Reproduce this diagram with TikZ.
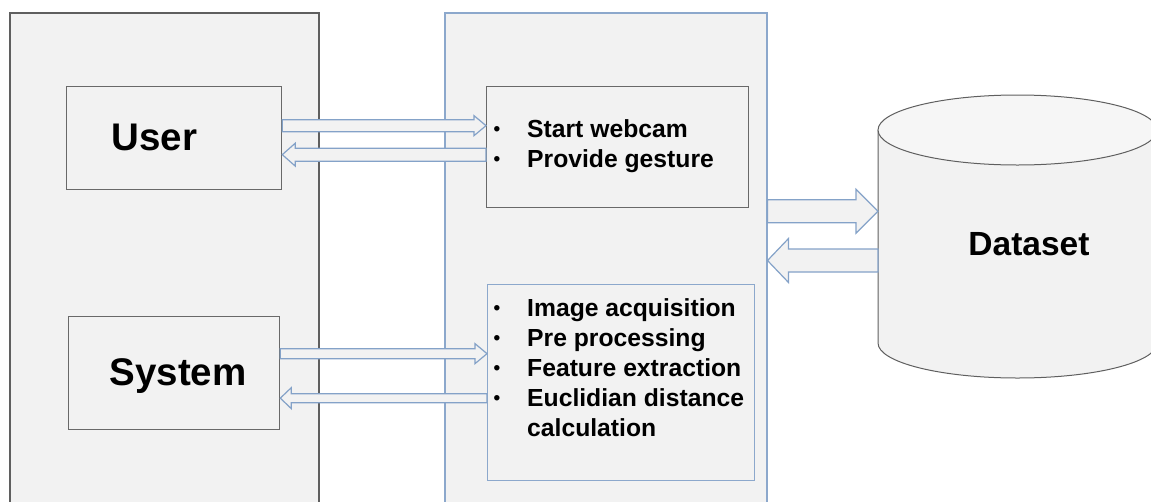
\documentclass[tikz,border=0pt]{standalone}
\usepackage{fontspec}
\setmainfont{Liberation Sans}
\usetikzlibrary{calc}

\tikzset{
  panel/.style={draw={rgb, 255:red, 95; green, 95; blue, 95}, line width=1.5pt, fill={rgb, 255:red, 242; green, 242; blue, 242}, inner sep=0pt, anchor=north west},
  bluepanel/.style={panel, draw={rgb, 255:red, 140; green, 168; blue, 204}},
  actorbox/.style={draw={rgb, 255:red, 105; green, 105; blue, 105}, line width=1.3pt, fill={rgb, 255:red, 242; green, 242; blue, 242}, inner sep=0pt, anchor=north west},
  fatarr/.style={draw={rgb, 255:red, 132; green, 162; blue, 200}, line width=1.2pt, fill={rgb, 255:red, 242; green, 242; blue, 242}, line join=miter},
  bigtext/.style={font=\fontsize{38.5}{40}\selectfont\bfseries, inner sep=0pt, anchor=base},
  listtext/.style={font=\fontsize{24.7}{30}\selectfont\bfseries, inner sep=0pt, anchor=base west}
}

% block arrow: start, tip, half shaft, half head, head length (signed)
\newcommand{\fatarrow}[5]{%
  \draw[fatarr] let \p1=#1, \p2=#2 in
    (\x1,{\y1+#3}) -- ({\x2-(#5)},{\y1+#3}) -- ({\x2-(#5)},{\y1+#4}) -- (\x2,\y1)
    -- ({\x2-(#5)},{\y1-#4}) -- ({\x2-(#5)},{\y1-#3}) -- (\x1,{\y1-#3}) -- cycle;}
\newcommand{\itm}{\makebox[35pt][l]{\hspace{1.5pt}\raisebox{1.8pt}{\fontsize{19}{19}\selectfont•}}}

\begin{document}
\begin{tikzpicture}[x=1pt,y=-1pt]
        \useasboundingbox (0,0) rectangle (1151,501);
        %Shape: Rectangle (actors)
        \node[panel, minimum width=309pt, minimum height=510pt] (actors) at (9,12) {};
        %Shape: Rectangle (process)
        \node[bluepanel, minimum width=322pt, minimum height=510pt] (process) at (444,12) {};
        %Shape: Rectangle
        \node[actorbox, minimum width=215pt, minimum height=103pt] (user) at (66,86) {};
        %Shape: Rectangle
        \node[actorbox, minimum width=211pt, minimum height=113pt] (system) at (68,316) {};
        %Shape: Rectangle
        \node[actorbox, minimum width=262pt, minimum height=121pt] (steps) at (486,86) {};
        %Shape: Rectangle
        \node[actorbox, draw={rgb, 255:red, 140; green, 168; blue, 204}, minimum width=267pt, minimum height=196pt] (recog) at (487,284) {};

        %Shape: Can (dataset)
        \draw [draw={rgb, 255:red, 95; green, 95; blue, 95}, line width=1pt, fill={rgb, 255:red, 242; green, 242; blue, 242}]
          (878,130) -- (878,343) arc[start angle=180, end angle=0, x radius=139.5, y radius=35] -- (1157,130) -- cycle;
        \draw [draw={rgb, 255:red, 95; green, 95; blue, 95}, line width=1pt, fill={rgb, 255:red, 246; green, 246; blue, 246}]
          (1017.5,130) ellipse [x radius=139.5, y radius=35];
        \coordinate (dbin) at (878,210.5);
        \coordinate (dbout) at (878,260.5);

        %Block arrows
        \fatarrow{($(user.east)+(0,-12.5)$)}{(steps.west)}{6pt}{10pt}{12pt}
        \fatarrow{($(steps.west)+(0,7.5)$)}{(user.east)}{6.5pt}{11.5pt}{-13pt}
        \fatarrow{($(system.east)+(0,-19.5)$)}{(recog.west)}{5pt}{10pt}{12pt}
        \fatarrow{($(recog.west)+(0,15.5)$)}{(system.east)}{4.5pt}{10.5pt}{-11pt}
        \fatarrow{($(process.east)+(0,-56.5)$)}{(dbin)}{11.5pt}{22pt}{22pt}
        \fatarrow{(dbout)}{(process.east)}{11.5pt}{22pt}{-21pt}

        % Text Node
        \node[bigtext] (usertext) at (154.5,150) {User};
        % Text Node
        \node[bigtext] (systemtext) at (178,385) {System};
        % Text Node
        \node[bigtext, font=\fontsize{33.5}{36}\selectfont\bfseries] (datatext) at (1029,255) {Dataset};
        % Text Node
        \node[listtext] (stepstext) at (492,137) {\begin{tabular}[t]{@{}l@{}}
          \itm Start webcam\\
          \itm Provide gesture
        \end{tabular}};
        % Text Node
        \node[listtext] (recogtext) at (492,316) {\begin{tabular}[t]{@{}l@{}}
          \itm Image acquisition\\
          \itm Pre processing\\
          \itm Feature extraction\\
          \itm Euclidian distance\\
          \hspace*{35pt}calculation
        \end{tabular}};
\end{tikzpicture}
\end{document}
